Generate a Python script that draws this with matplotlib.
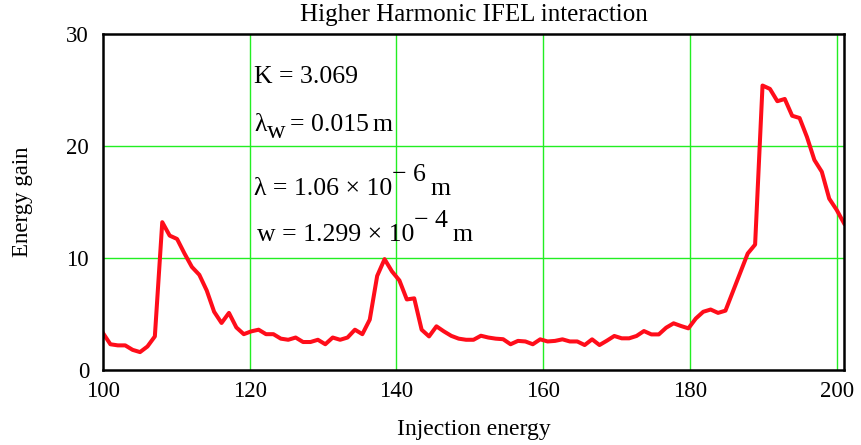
import numpy as np
import matplotlib
matplotlib.use('Agg')
import matplotlib.pyplot as plt

plt.rcParams['font.family'] = ['Liberation Serif', 'DejaVu Serif']

# injection energy grid (101 samples from 100 to 201)
energy = np.linspace(100, 201, 101)

# energy gain
gain = [3.3, 2.3, 2.2, 2.2, 1.8, 1.6, 2.1, 3.0, 13.2, 12.0,
        11.7, 10.4, 9.2, 8.5, 7.1, 5.2, 4.2, 5.1, 3.8, 3.2,
        3.45, 3.6, 3.2, 3.2, 2.8, 2.7, 2.9, 2.5, 2.5, 2.7,
        2.3, 2.9, 2.7, 2.9, 3.6, 3.2, 4.5, 8.4, 9.9, 8.8,
        8.0, 6.3, 6.4, 3.6, 3.0, 3.9, 3.45, 3.05, 2.8, 2.7,
        2.7, 3.06, 2.9, 2.8, 2.75, 2.3, 2.6, 2.55, 2.3, 2.74,
        2.55, 2.6, 2.74, 2.55, 2.55, 2.23, 2.74, 2.23, 2.62, 3.04,
        2.83, 2.83, 3.04, 3.48, 3.18, 3.18, 3.78, 4.17, 3.93, 3.72,
        4.6, 5.2, 5.4, 5.1, 5.3, 7.0, 8.7, 10.4, 11.2, 25.4,
        25.1, 24.0, 24.2, 22.7, 22.5, 20.8, 18.75, 17.7, 15.3, 14.3,
        13.1]

xticks = [100, 120, 140, 160, 180, 200]
yticks = [0, 10, 20, 30]

# parameter lines: pieces of (text, raise in px, gap before in px)
params = [
    [('K = 3.069', 0, 0)],
    [('λ', 0, 0), ('w', -7, 0), ('= 0.015', 0, 5), ('m', 0, 4)],
    [('λ = 1.06 × 10', 0, 0), ('− 6', 14, 0), ('m', 0, 4)],
    [('w = 1.299 × 10', 0, 0), ('− 4', 14, 0), ('m', 0, 4)],
]
param_x = [120.6, 120.6, 120.6, 121.0]
param_y = [25.6, 21.3, 15.6, 11.5]

fig = plt.figure(figsize=(8.61, 4.45), dpi=100)
ax = fig.add_axes([0.1196, 0.1685, 0.8607, 0.7551])

ax.plot(energy, gain, color='#ff0d1a', lw=2.9)

ax.set_xlim(100, 201)
ax.set_ylim(0, 30)
ax.set_xticks(xticks)
ax.set_yticks(yticks)
ax.tick_params(length=0, labelsize=16.5)
ax.tick_params(axis='x', pad=8)
ax.tick_params(axis='y', pad=10)
for gx in xticks[1:]:
    ax.axvline(gx, color='#22ee22', lw=1.0, zorder=0)
for gy in yticks[1:-1]:
    ax.axhline(gy, color='#22ee22', lw=1.0, zorder=0)
for s in ax.spines.values():
    s.set_linewidth(1.8)

ax.set_title('Higher Harmonic IFEL interaction', fontsize=18, pad=9)
ax.set_xlabel('Injection energy', fontsize=17, labelpad=12)
ax.set_ylabel('Energy gain', fontsize=16.5, labelpad=24)

renderer = fig.canvas.get_renderer()
for pieces, xx, yy in zip(params, param_x, param_y):
    dx = 0
    for txt, dy, gap in pieces:
        dx += gap
        t = ax.annotate(txt, (xx, yy), xytext=(dx * 0.72, dy * 0.72),
                        textcoords='offset points', fontsize=18.5,
                        va='baseline', ha='left')
        dx += t.get_window_extent(renderer).width

fig.savefig('out.png', dpi=100)
